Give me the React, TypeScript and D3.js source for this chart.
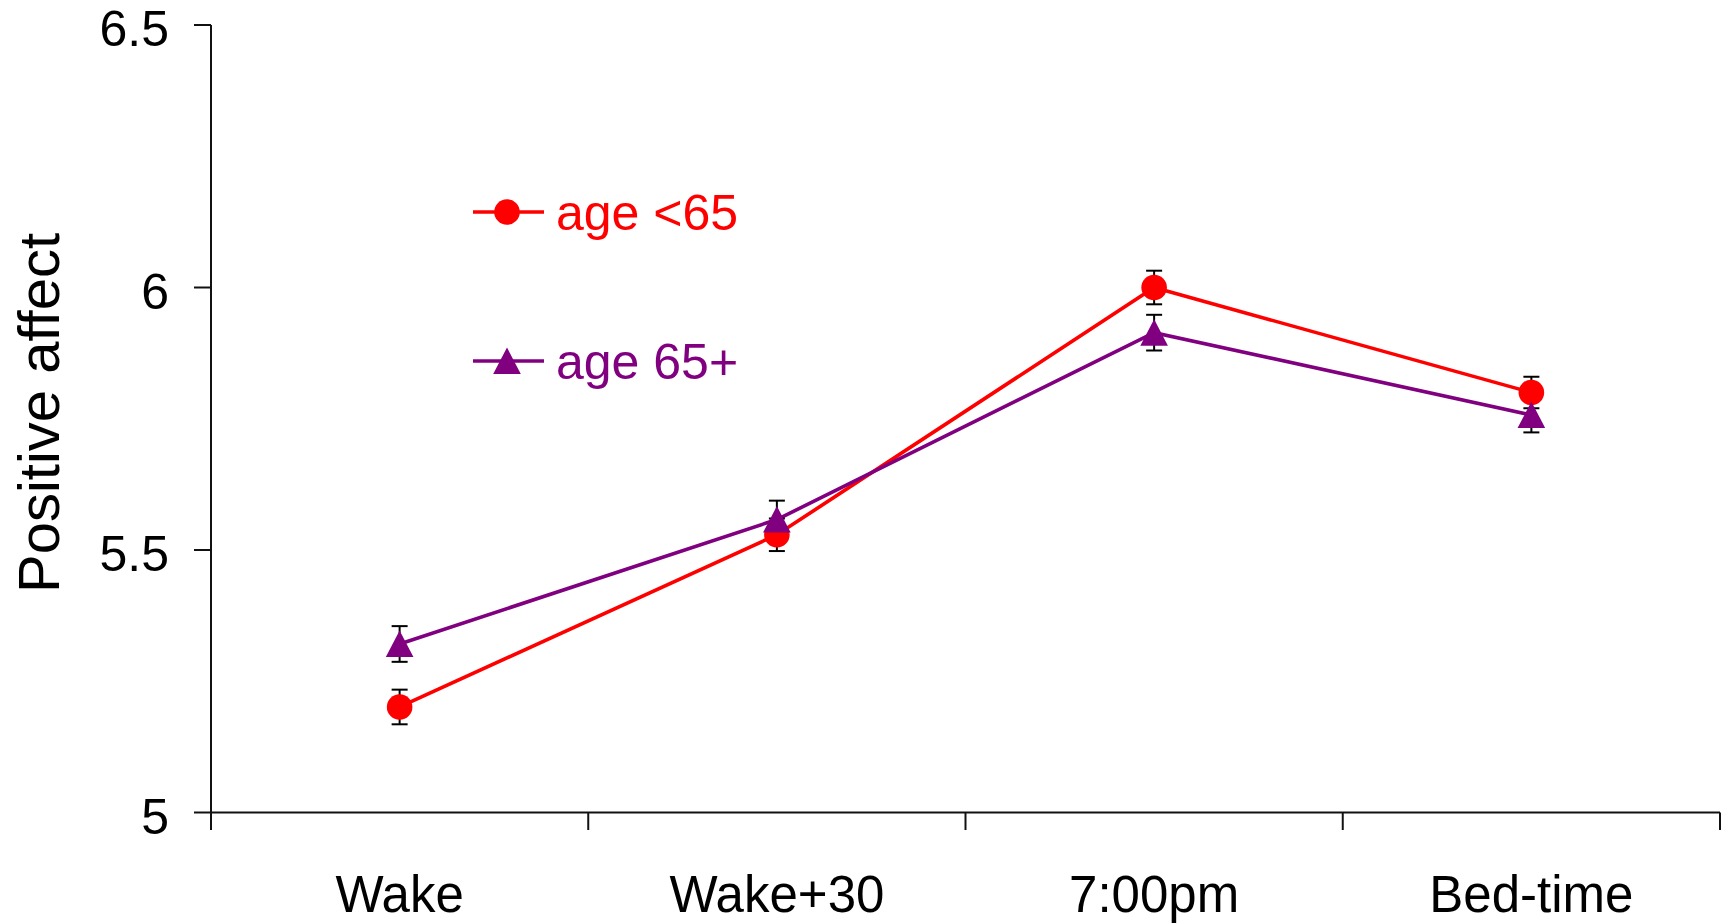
import React from 'react';
import * as d3 from 'd3';

// data
const categories = ['Wake', 'Wake+30', '7:00pm', 'Bed-time'];
const youngValues = [5.201, 5.529, 6.0, 5.8];
const youngErrors = [0.033, 0.031, 0.032, 0.03];
const olderValues = [5.321, 5.558, 5.914, 5.757];
const olderErrors = [0.034, 0.036, 0.034, 0.033];
const yTicks = [5, 5.5, 6, 6.5];
const seriesNames = ['age <65', 'age 65+'];

const width = 1723;
const height = 924;
const font = '"Liberation Sans", Arial, Helvetica, sans-serif';

const RED = '#ff0000';
const PURPLE = '#800080';

const App = () => {
  const x = d3.scaleBand<string>().domain(categories).range([211, 1720]).padding(0);
  const y = d3.scaleLinear().domain([5, 6.5]).range([812.5, 25]);
  const cx = (c: string) => (x(c) as number) + x.bandwidth() / 2;

  const line = d3
    .line<number>()
    .x((_, i) => cx(categories[i]))
    .y(d => y(d));

  const series = [
    { name: seriesNames[0], values: youngValues, errors: youngErrors, color: RED, marker: 'circle' },
    { name: seriesNames[1], values: olderValues, errors: olderErrors, color: PURPLE, marker: 'triangle' },
  ];

  const triangle = 'M0,-13.5L13.8,13L-13.8,13Z';

  const marker = (kind: string, color: string, px: number, py: number, key: string) =>
    kind === 'circle' ? (
      <circle key={key} cx={px} cy={py} r={12.8} fill={color} />
    ) : (
      <path key={key} d={triangle} transform={`translate(${px},${py})`} fill={color} />
    );

  const xBounds = [...categories.map(c => x(c) as number), 1720];

  return (
    <svg
      width={width}
      height={height}
      style={{ position: 'absolute', left: 0, top: 0, background: '#fff' }}
      fontFamily={font}
    >
      {/* y axis */}
      <line x1={211} x2={211} y1={25} y2={830} stroke="#111" strokeWidth={2} />
      {yTicks.map(t => (
        <g key={t}>
          <line x1={194} x2={211} y1={y(t)} y2={y(t)} stroke="#111" strokeWidth={2} />
          <text x={169} y={y(t) + 21} textAnchor="end" fontSize={50} fill="#000">
            {t}
          </text>
        </g>
      ))}
      <text
        transform={`translate(59,413) rotate(-90)`}
        textAnchor="middle"
        fontSize={58}
        fill="#000"
      >
        Positive affect
      </text>

      {/* x axis */}
      <line x1={211} x2={1720} y1={y(5)} y2={y(5)} stroke="#111" strokeWidth={2} />
      {xBounds.map((b, i) => (
        <line key={i} x1={b} x2={b} y1={y(5)} y2={830} stroke="#111" strokeWidth={2} />
      ))}
      {categories.map(c => (
        <text key={c} x={cx(c)} y={912} textAnchor="middle" fontSize={51} fill="#000">
          {c}
        </text>
      ))}

      {/* lines */}
      {series.map(s => (
        <path key={s.name} d={line(s.values) || ''} fill="none" stroke={s.color} strokeWidth={3.6} />
      ))}

      {/* error bars */}
      {series.map(s =>
        s.values.map((v, i) => {
          const px = cx(categories[i]);
          const top = y(v + s.errors[i]);
          const bot = y(v - s.errors[i]);
          return (
            <g key={s.name + i} stroke="#000" strokeWidth={2}>
              <line x1={px} x2={px} y1={top} y2={bot} />
              <line x1={px - 8} x2={px + 8} y1={top} y2={top} />
              <line x1={px - 8} x2={px + 8} y1={bot} y2={bot} />
            </g>
          );
        })
      )}

      {/* markers */}
      {series.map(s =>
        s.values.map((v, i) => marker(s.marker, s.color, cx(categories[i]), y(v), s.name + 'm' + i))
      )}

      {/* legend */}
      {series.map((s, i) => {
        const ly = i === 0 ? 212 : 361;
        return (
          <g key={s.name}>
            <line x1={473} x2={544} y1={ly} y2={ly} stroke={s.color} strokeWidth={3.6} />
            {marker(s.marker, s.color, 507, ly, 'lg' + i)}
            <text x={556} y={ly + 18} fontSize={50} fill={s.color}>
              {s.name}
            </text>
          </g>
        );
      })}
    </svg>
  );
};

export default App;
